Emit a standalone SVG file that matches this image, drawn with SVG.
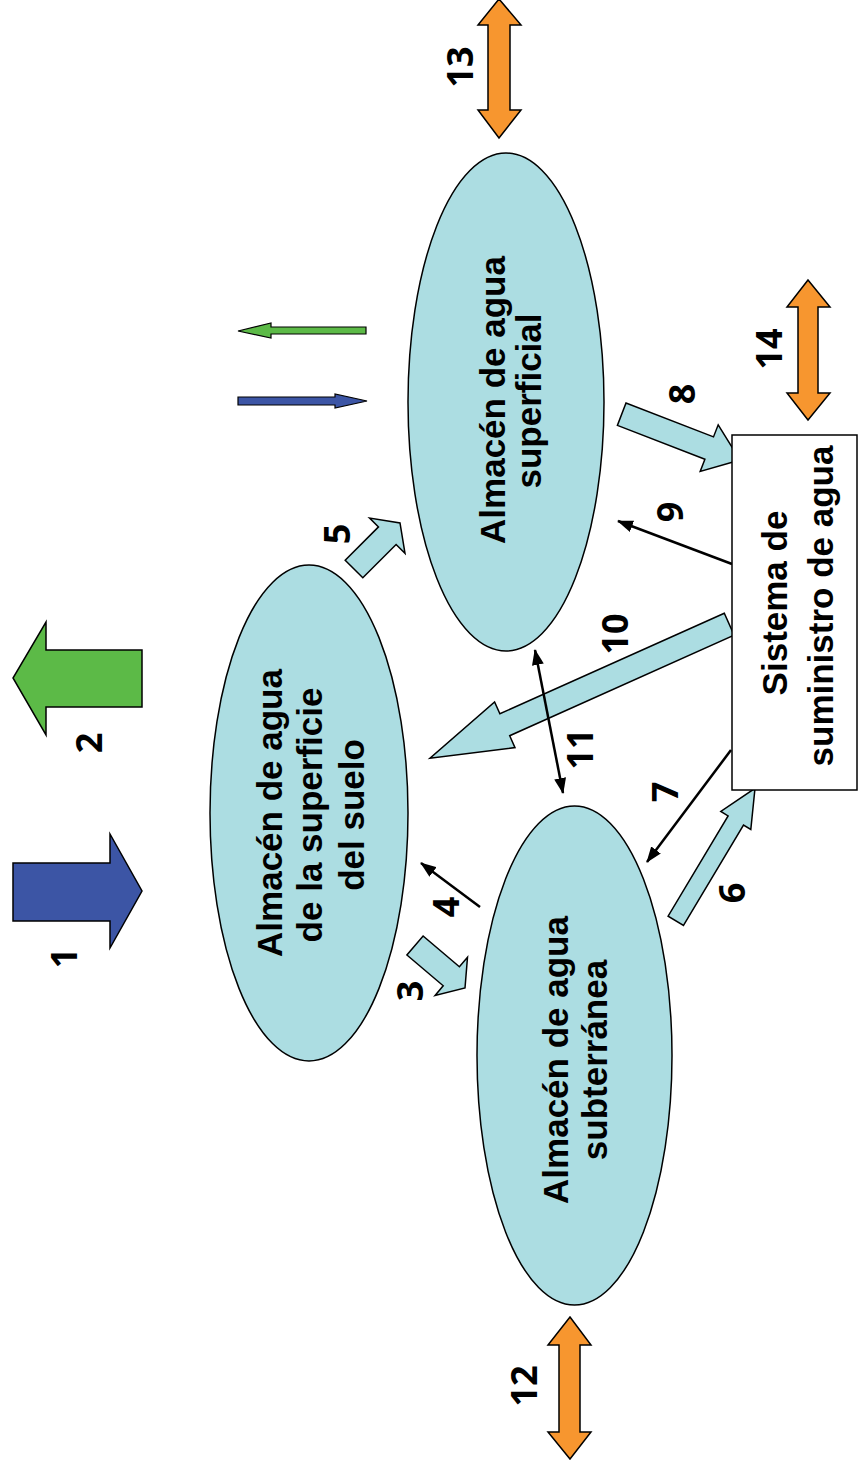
<svg xmlns="http://www.w3.org/2000/svg" width="858" height="1472" viewBox="0 0 858 1472">
<style>
.store{fill:#acdde2;stroke:#000;stroke-width:1.5}
.flow{fill:#acdde2;stroke:#000;stroke-width:1.5;stroke-linejoin:miter}
.ex{fill:#f7962f;stroke:#000;stroke-width:1.5}
.thin{stroke:#000;stroke-width:2.5;fill:none}
.lbl{font-family:"Liberation Sans",Arial,sans-serif;font-weight:bold;font-size:35px;fill:#000;text-anchor:middle}
.num{font-family:"Open Sans","Liberation Sans",sans-serif;font-weight:bold;font-size:36px;fill:#000;text-anchor:middle}
</style>
<defs>
<marker id="ah" viewBox="0 0 16 12" markerWidth="16" markerHeight="12" markerUnits="userSpaceOnUse" refX="15" refY="6" orient="auto-start-reverse">
<path d="M0,0 L16,6 L0,12 z" fill="#000"/>
</marker>
</defs>
<rect width="858" height="1472" fill="#fff"/>

<g id="connectors">
<polygon id="a1" points="13,863 110,863 110,834 142,891 110,948 110,921 13,921" fill="#3c55a5" stroke="#000" stroke-width="1.5"/>
<polygon id="a2" points="142,650 46,650 46,622 13,678 46,735 46,707 142,707" fill="#5cba47" stroke="#000" stroke-width="1.5"/>
<polygon id="ag" points="366,327 271,327 271,323 238,331 271,338 271,334 366,334" fill="#5cba47" stroke="#000" stroke-width="1.2"/>
<polygon id="ab" points="238,397 335,397 335,394 367,401 335,408 335,405 238,405" fill="#3c55a5" stroke="#000" stroke-width="1.2"/>
<polygon id="a3" class="flow" points="406.9,955 443.2,985.8 435.1,995.4 465,988 467.5,957.3 459.4,966.8 423.1,936"/>
<polygon id="a5" class="flow" points="362.8,577.8 396.1,544.5 405,553.4 400,523 369.6,518 378.5,526.9 345.2,560.2"/>
<polygon id="a6" class="flow" points="683.5,925.4 743.5,825.1 750.8,829.5 755,788.3 720.8,811.5 728.1,815.9 668.1,916.2"/>
<polygon id="a8" class="flow" points="617.4,425.4 704.9,459.3 700.2,471.4 740,460 718.2,424.8 713.5,436.9 626,403"/>
<polygon id="a10" class="flow" points="724.3,613.2 499.9,713.8 494.6,702 430,758.3 515,747.6 509.7,735.7 734.1,635.2"/>
<line id="a4" class="thin" x1="480" y1="907" x2="421" y2="863" marker-end="url(#ah)"/>
<line id="a7" class="thin" x1="731" y1="750" x2="647" y2="862" marker-end="url(#ah)"/>
<line id="a9" class="thin" x1="732" y1="564" x2="618" y2="521" marker-end="url(#ah)"/>
<line id="a11" class="thin" x1="535" y1="650" x2="563" y2="793" marker-start="url(#ah)" marker-end="url(#ah)"/>
<polygon id="a12" class="ex" points="570,1317 591,1345 580,1345 580,1432 591,1432 570,1459 548,1432 559,1432 559,1345 548,1345"/>
<polygon id="a13" class="ex" points="499,-1 521,25 510,25 510,110 521,110 499,138 478,110 488,110 488,25 478,25"/>
<polygon id="a14" class="ex" points="808,280 830,307 818,307 818,393 830,393 808,420 787,393 798,393 798,307 787,307"/>
</g>

<g id="n-superficial">
<ellipse class="store" cx="506" cy="402" rx="98" ry="249"/>
<text class="lbl" transform="translate(505,400) rotate(-90)">Almacén de agua</text>
<text class="lbl" transform="translate(541,401) rotate(-90)">superficial</text>
</g>

<g id="n-suelo">
<ellipse class="store" cx="309" cy="813" rx="99" ry="248"/>
<text class="lbl" transform="translate(282,813) rotate(-90)">Almacén de agua</text>
<text class="lbl" transform="translate(322,815) rotate(-90)">de la superficie</text>
<text class="lbl" transform="translate(364,815) rotate(-90)">del suelo</text>
</g>

<g id="n-subterranea">
<ellipse class="store" cx="574.5" cy="1055.5" rx="97.5" ry="249.5"/>
<text class="lbl" transform="translate(568,1060) rotate(-90)">Almacén de agua</text>
<text class="lbl" transform="translate(607,1060) rotate(-90)">subterránea</text>
</g>

<g id="n-sistema">
<rect x="732" y="435" width="125" height="355" fill="#fff" stroke="#000" stroke-width="1.5"/>
<text class="lbl" transform="translate(787,603) rotate(-90)">Sistema de</text>
<text class="lbl" transform="translate(833,606) rotate(-90)">suministro de agua</text>
</g>

<g id="labels">
<text class="num" transform="translate(77,958) rotate(-90)">1</text>
<text class="num" transform="translate(102,743) rotate(-90)">2</text>
<text class="num" transform="translate(423,991) rotate(-90)">3</text>
<text class="num" transform="translate(459,907) rotate(-90)">4</text>
<text class="num" transform="translate(350,534) rotate(-90)">5</text>
<text class="num" transform="translate(745,893) rotate(-90)">6</text>
<text class="num" transform="translate(678,792) rotate(-90)">7</text>
<text class="num" transform="translate(695,394) rotate(-90)">8</text>
<text class="num" transform="translate(683,512) rotate(-90)">9</text>
<text class="num" transform="translate(628,634) rotate(-90)">10</text>
<text class="num" transform="translate(593,749) rotate(-90)">11</text>
<text class="num" transform="translate(537,1386) rotate(-90)">12</text>
<text class="num" transform="translate(473,67) rotate(-90)">13</text>
<text class="num" transform="translate(782,349) rotate(-90)">14</text>
</g>
</svg>
